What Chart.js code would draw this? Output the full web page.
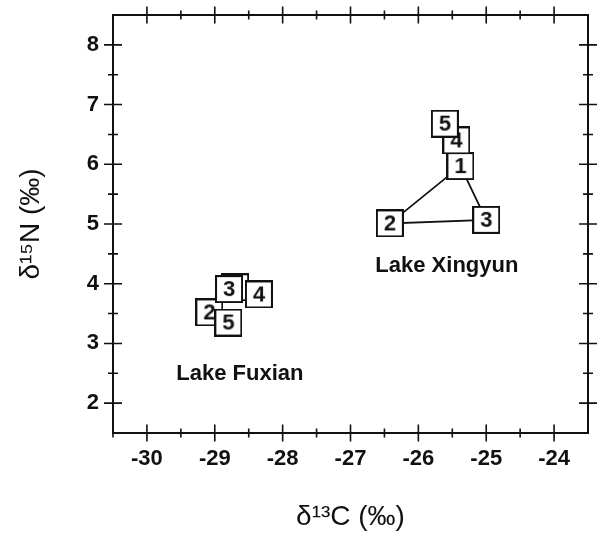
<!DOCTYPE html>
<html>
<head>
<meta charset="utf-8">
<script src="https://cdn.jsdelivr.net/npm/chart.js@4.4.0/dist/chart.umd.min.js"></script>
<style>
  html, body { margin: 0; padding: 0; background: #fff; }
  #wrap { width: 603px; height: 536px; }
</style>
</head>
<body>
<div id="wrap"><canvas id="chart"></canvas></div>
<script>
const sampleIds = ["1", "2", "3", "4", "5"];
const xingyunC = [-25.38, -26.42, -25.00, -25.44, -25.61];
const xingyunN = [5.97, 5.01, 5.07, 6.40, 6.68];
const fuxianC = [-28.70, -29.08, -28.79, -28.35, -28.80];
const fuxianN = [3.94, 3.52, 3.91, 3.82, 3.35];
const triangle = [0, 1, 2, 0];
const xTicks = [-30, -29, -28, -27, -26, -25, -24];
const yTicks = [2, 3, 4, 5, 6, 7, 8];
const lakeNames = ["Lake Xingyun", "Lake Fuxian"];
const lakeLabelC = [-25.58, -28.63];
const lakeLabelN = [4.29, 2.49];

const FONT = "'Liberation Sans', Arial, sans-serif";

// numbered square markers
function makeBox(label) {
  const c = document.createElement('canvas');
  c.width = 28; c.height = 28;
  const g = c.getContext('2d');
  g.fillStyle = '#fff';
  g.fillRect(0, 0, 28, 28);
  g.strokeStyle = '#111';
  g.lineWidth = 2;
  g.strokeRect(1, 1, 26, 26);
  g.fillStyle = '#111';
  g.font = 'bold 22px ' + FONT;
  g.textAlign = 'center';
  g.textBaseline = 'middle';
  g.fillText(label, 14, 15);
  return c;
}
const boxes = sampleIds.map(makeBox);

const pts = (xs, ys) => xs.map((x, i) => ({ x, y: ys[i] }));

const frameTicks = {
  id: 'frameTicks',
  afterDraw(chart) {
    const { ctx, chartArea: a, scales: { x, y } } = chart;
    ctx.save();
    ctx.strokeStyle = '#111';
    ctx.lineWidth = 2;
    ctx.strokeRect(a.left, a.top, a.right - a.left, a.bottom - a.top);
    ctx.lineWidth = 1.6;
    ctx.beginPath();
    xTicks.forEach(v => {
      [v, v + 0.5].forEach((t, k) => {
        if (t >= x.max) return;
        const px = x.getPixelForValue(t), len = k ? 4.5 : 8.5;
        ctx.moveTo(px, a.bottom - len); ctx.lineTo(px, a.bottom + len);
        ctx.moveTo(px, a.top - len); ctx.lineTo(px, a.top + len);
      });
      if (v === xTicks[0]) {
        const px = x.getPixelForValue(v - 0.5);
        ctx.moveTo(px, a.bottom - 4.5); ctx.lineTo(px, a.bottom + 4.5);
      }
    });
    yTicks.forEach(v => {
      [v, v + 0.5].forEach((t, k) => {
        if (t >= y.max) return;
        const py = y.getPixelForValue(t), len = k ? 5 : 9;
        ctx.moveTo(a.left - len, py); ctx.lineTo(a.left + len, py);
        ctx.moveTo(a.right - len, py); ctx.lineTo(a.right + len, py);
      });
    });
    ctx.stroke();
    ctx.fillStyle = '#111';
    ctx.font = 'bold 22px ' + FONT;
    ctx.textAlign = 'center';
    ctx.textBaseline = 'middle';
    lakeNames.forEach((n, i) => {
      ctx.fillText(n, x.getPixelForValue(lakeLabelC[i]), y.getPixelForValue(lakeLabelN[i]));
    });
    ctx.restore();
  }
};

new Chart(document.getElementById('chart'), {
  type: 'scatter',
  data: {
    datasets: [
      {
        type: 'line',
        data: triangle.map(i => ({ x: xingyunC[i], y: xingyunN[i] })),
        borderColor: '#111',
        borderWidth: 1.8,
        pointRadius: 0,
        fill: false,
        order: 10
      },
      {
        data: pts(fuxianC, fuxianN),
        pointStyle: boxes,
        pointRadius: 14,
        order: 1
      },
      {
        data: pts(xingyunC, xingyunN),
        pointStyle: boxes,
        pointRadius: 14,
        order: 1
      }
    ]
  },
  options: {
    responsive: true,
    maintainAspectRatio: false,
    animation: false,
    events: [],
    layout: { padding: { top: 15, right: 14, left: 10, bottom: 0 } },
    plugins: { legend: { display: false }, tooltip: { enabled: false } },
    scales: {
      x: {
        min: -30.5, max: -23.5,
        afterBuildTicks: s => { s.ticks = xTicks.map(v => ({ value: v })); },
        afterFit: s => { s.height = 103; s.paddingLeft = 0; s.paddingRight = 0; },
        grid: { display: false, drawTicks: false },
        border: { display: false },
        ticks: { color: '#111', padding: 13, maxRotation: 0, font: { family: FONT, size: 22, weight: 'bold' } },
        title: { display: true, text: 'δ¹³C (‰)', color: '#111', padding: { top: 0, bottom: 2 }, font: { family: FONT, size: 28 } }
      },
      y: {
        min: 1.5, max: 8.5,
        afterBuildTicks: s => { s.ticks = yTicks.map(v => ({ value: v })); },
        afterFit: s => { s.width = 103; s.paddingTop = 0; s.paddingBottom = 0; },
        grid: { display: false, drawTicks: false },
        border: { display: false },
        ticks: { color: '#111', padding: 14, font: { family: FONT, size: 22, weight: 'bold' } },
        title: { display: true, text: 'δ¹⁵N (‰)', color: '#111', padding: { top: 4, bottom: 0 }, font: { family: FONT, size: 28 } }
      }
    }
  },
  plugins: [frameTicks]
});
</script>
</body>
</html>
